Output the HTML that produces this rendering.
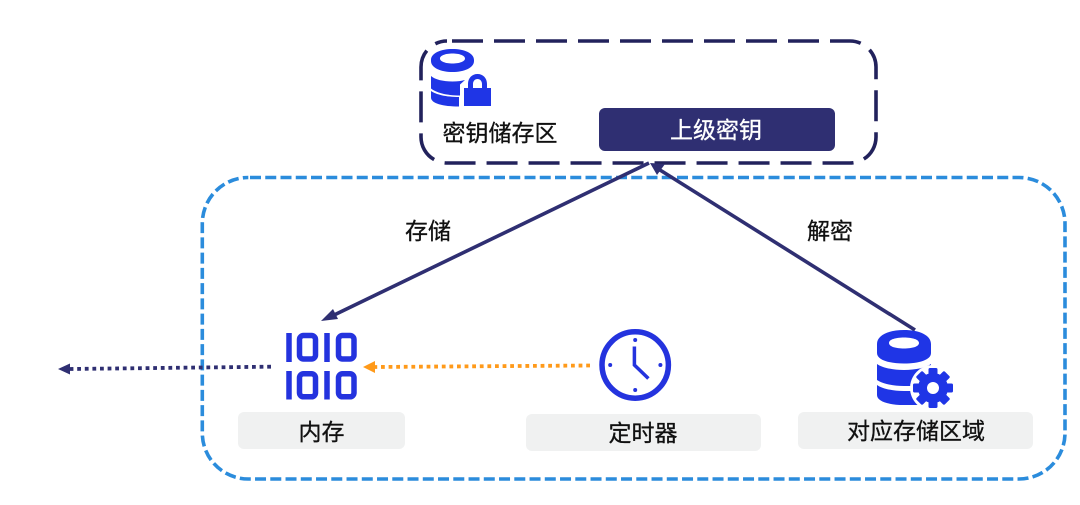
<!DOCTYPE html>
<html lang="zh">
<head>
<meta charset="utf-8">
<style>
html,body{margin:0;padding:0;background:#fff;width:1080px;height:505px;overflow:hidden}
svg{display:block}
text{font-family:"Liberation Sans","Noto Sans CJK SC",sans-serif;font-size:23px;text-anchor:middle;stroke-width:.3}
</style>
</head>
<body>
<svg width="1080" height="505" viewBox="0 0 1080 505" xmlns="http://www.w3.org/2000/svg">
<rect width="1080" height="505" fill="#fff"/>

<!-- containers -->
<rect x="202.3" y="177.5" width="862.7" height="301.5" rx="46" fill="none" stroke="#2b8cdc" stroke-width="3.6" stroke-dasharray="11 4.25" stroke-dashoffset="-1.7"/>
<rect x="421" y="41" width="455" height="122" rx="26" fill="none" stroke="#22225c" stroke-width="3.6" stroke-dasharray="31 11" stroke-dashoffset="-5"/>

<!-- key box -->
<rect x="599" y="108" width="236" height="43" rx="6" fill="#2f2f72"/>
<text x="716" y="138" fill="#fff" stroke="#fff">上级密钥</text>
<text x="500" y="141" fill="#111" stroke="#111">密钥储存区</text>

<!-- connectors -->
<line x1="649" y1="163" x2="330" y2="317" stroke="#2f2f72" stroke-width="3.6"/>
<polygon points="321,321 333,309 338,319" fill="#2f2f72"/>
<line x1="915" y1="330" x2="660" y2="170" stroke="#2f2f72" stroke-width="3.6"/>
<polygon points="650,163 665,164 657,175" fill="#2f2f72"/>
<text x="428" y="239" fill="#111" stroke="#111">存储</text>
<text x="830" y="239" fill="#111" stroke="#111">解密</text>

<line x1="271" y1="366.7" x2="70" y2="369" stroke="#2f2f72" stroke-width="3.8" stroke-dasharray="3.8 3.8"/>
<polygon points="58,369 70,363.500 70,374.500" fill="#2f2f72"/>
<line x1="590" y1="365.500" x2="374" y2="367" stroke="#ff9a1a" stroke-width="3.8" stroke-dasharray="3.8 3.8"/>
<polygon points="363,367 375,361 375,373" fill="#ff9a1a"/>

<!-- database + lock -->
<g fill="#1f35e6">
  <path fill-rule="evenodd" d="M431 60c0-7 10-11 21.500-11s21.500 4 21.500 11v1c0 7-10 11-21.500 11s-21.500-4-21.500-11z M440 58.500c0 3 5.500 5 12.500 5s12.500-2 12.500-5-5.500-5-12.500-5-12.500 2-12.500 5z"/>
  <path d="M431 76c4 3.500 12 5.500 21.500 5.500 5 0 9-.5 12.500-1.500l-5 4.500v11c-14 0-24-3-29-7z"/>
  <path d="M431 91c5 3.500 15 6 28 6v9.500c-16 0-28-3-28-9z"/>
  <path fill-rule="evenodd" d="M464 88h4v-4c0-6 4-10 9.500-10s9.500 4 9.500 10v4h4v18h-27z M473 88h9v-4c0-3-2-5-4.500-5s-4.500 2-4.500 5z"/>
</g>

<!-- binary -->
<g fill="none" stroke="#2433de" stroke-width="5.500">
  <path d="M289 333v29M327 333v29M289 371v28.500M327 371v28.500"/>
  <rect x="299.500" y="335.500" width="16" height="23.500" rx="4"/>
  <rect x="338.500" y="335.500" width="15.500" height="23.500" rx="4"/>
  <rect x="299.500" y="373.800" width="16" height="23" rx="4"/>
  <rect x="338.500" y="373.800" width="15.500" height="23" rx="4"/>
</g>

<!-- clock -->
<circle cx="635.200" cy="365" r="33.200" fill="none" stroke="#2433de" stroke-width="5.500"/>
<g fill="#2433de">
  <circle cx="635.200" cy="340" r="2"/>
  <circle cx="635.200" cy="390" r="2"/>
  <circle cx="610.200" cy="365" r="2"/>
  <circle cx="660.400" cy="365" r="2"/>
</g>
<path d="M634.400 346.500v18.500l14 13.500" fill="none" stroke="#2433de" stroke-width="3.500"/>

<!-- database + gear -->
<g fill="#1f35e6">
  <path fill-rule="evenodd" d="M877 344c0-9 12-14 27-14s27 5 27 14v9c0 7-12 10.500-27 10.500s-27-3.500-27-10.500z M889 343c0 3.500 6.500 5.500 15 5.500s15-2 15-5.500-6.500-5.500-15-5.500-15 2-15 5.500z"/>
  <path d="M877 364c5 3.500 15 6 27 6s22-2.500 27-6v22h-27c-12 0-22-2.500-27-6z"/>
  <path d="M877 385c5 3.500 15 6 27 6h16v14h-16c-15 0-27-3.500-27-10z"/>
</g>
<circle cx="933" cy="388" r="23" fill="#fff"/>
<g fill="#1f35e6">
  <rect x="928.500" y="368" width="9" height="40" rx="1.500"/>
  <rect x="928.500" y="368" width="9" height="40" rx="1.500" transform="rotate(45 933 388)"/>
  <rect x="928.500" y="368" width="9" height="40" rx="1.500" transform="rotate(90 933 388)"/>
  <rect x="928.500" y="368" width="9" height="40" rx="1.500" transform="rotate(135 933 388)"/>
  <circle cx="933" cy="388" r="15"/>
</g>
<circle cx="933" cy="388" r="6" fill="#fff"/>

<!-- labels -->
<rect x="238" y="412" width="167" height="37" rx="6" fill="#f0f1f1"/>
<text x="321.500" y="440" fill="#111" stroke="#111">内存</text>
<rect x="526" y="414" width="235" height="37" rx="6" fill="#f0f1f1"/>
<text x="643" y="441" fill="#111" stroke="#111">定时器</text>
<rect x="798" y="412" width="235" height="37" rx="6" fill="#f0f1f1"/>
<text x="916" y="439" fill="#111" stroke="#111">对应存储区域</text>
</svg>
</body>
</html>
